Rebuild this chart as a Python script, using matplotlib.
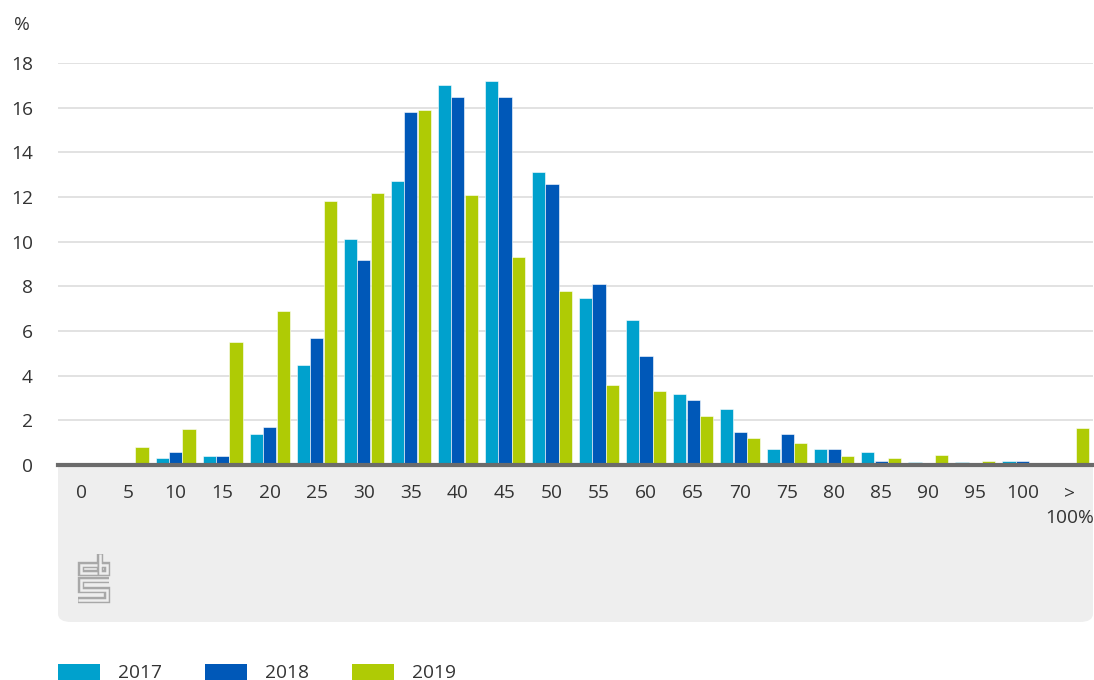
import matplotlib
matplotlib.use("Agg")
import matplotlib.pyplot as plt
import numpy as np
from matplotlib.patches import FancyBboxPatch, Rectangle
from matplotlib.lines import Line2D

categories = ["0", "5", "10", "15", "20", "25", "30", "35", "40", "45", "50",
              "55", "60", "65", "70", "75", "80", "85", "90", "95", "100", ">\n100%"]
series_names = ["2017", "2018", "2019"]
v2017 = [0, 0, 0.3, 0.4, 1.4, 4.5, 10.1, 12.7, 17.0, 17.2, 13.1,
         7.5, 6.5, 3.2, 2.5, 0.7, 0.7, 0.6, 0.15, 0.15, 0.2, 0]
v2018 = [0, 0, 0.6, 0.4, 1.7, 5.7, 9.2, 15.8, 16.5, 16.5, 12.6,
         8.1, 4.9, 2.9, 1.5, 1.4, 0.7, 0.2, 0, 0, 0.2, 0]
v2019 = [0, 0.8, 1.6, 5.5, 6.9, 11.8, 12.2, 15.9, 12.1, 9.3, 7.8,
         3.6, 3.3, 2.2, 1.2, 1.0, 0.4, 0.3, 0.45, 0.2, 0, 1.65]
yticks = [0, 2, 4, 6, 8, 10, 12, 14, 16, 18]
colors = ["#00a1cd", "#0058b8", "#afcb05"]

W, H = 1094, 680
fig = plt.figure(figsize=(W / 100, H / 100), dpi=100)
plt.rcParams['font.family'] = ['Open Sans', 'DejaVu Sans']
txt_color = "#333333"
fs = 13.8

def fx(px):
    return px / W

def fy(py):
    return 1 - py / H

left, right, top, base = 58, 1093, 63, 465
ax = fig.add_axes([fx(left), fy(base), fx(right - left), (base - top) / H])
ax.set_facecolor("white")

# grey panel under axis
panel = FancyBboxPatch((fx(left), fy(622)), fx(right - left), (622 - 440) / H,
                       boxstyle="round,pad=0,rounding_size=0.012",
                       transform=fig.transFigure, facecolor="#eeeeee",
                       edgecolor="none", zorder=-10)
fig.patches.append(panel)

x = np.arange(len(categories))
bw = 0.28
offs = [-0.285, 0, 0.285]
for vals, c, o, n in zip([v2017, v2018, v2019], colors, offs, series_names):
    ax.bar(x + o, vals, width=bw, color=c, edgecolor="white", linewidth=0.4,
           zorder=3, label=n)

ax.set_xlim(-0.5, len(categories) - 0.5)
ax.set_ylim(0, 18)
ax.set_yticks(yticks)
ax.set_yticklabels([str(t) for t in yticks], fontsize=fs, color=txt_color)
ax.yaxis.grid(True, color="#dddddd", linewidth=1.2, zorder=0)
ax.set_axisbelow(True)
ax.tick_params(axis="y", length=0, pad=18)
ax.set_xticks(x)
ax.set_xticklabels(categories, fontsize=fs, color=txt_color, va="top",
                   linespacing=1.45)
ax.tick_params(axis="x", length=0, pad=14)
for s in ax.spines.values():
    s.set_visible(False)
ax.axhline(0, color="#6b6b6b", linewidth=3, zorder=5, clip_on=False)

fig.text(fx(14), fy(25), "%", fontsize=fs, color=txt_color, va="center", ha="left")

# CBS logo (approximate outline drawing)
def pl(xs, ys, c, w):
    fig.add_artist(Line2D([fx(v) for v in xs], [fy(v) for v in ys],
                          color=c, linewidth=w, transform=fig.transFigure,
                          solid_joinstyle="miter", solid_capstyle="butt"))
paths = [
    ([97, 80.5, 80.5, 97], [564.5, 564.5, 572.5, 572.5]),           # c
    ([99.5, 99.5, 106.5, 106.5, 99.5], [554, 572.5, 572.5, 564.5, 564.5]),  # b
    ([109, 80.5, 80.5, 106.5, 106.5, 78], [580, 580, 590, 590, 599.5, 599.5]),  # S
]
for xs, ys in paths:
    pl(xs, ys, "#a8a8a8", 4.6)
for xs, ys in paths:
    pl(xs, ys, "#eeeeee", 1.8)

# legend
lx = [58, 205, 352]
for i, n in enumerate(series_names):
    fig.add_artist(Rectangle((fx(lx[i]), fy(680)), fx(42), 16 / H,
                             transform=fig.transFigure, facecolor=colors[i],
                             edgecolor="none"))
    fig.text(fx(lx[i] + 60), fy(673), n, fontsize=fs, color=txt_color,
             va="center", ha="left")

fig.savefig("out.png", dpi=100)
